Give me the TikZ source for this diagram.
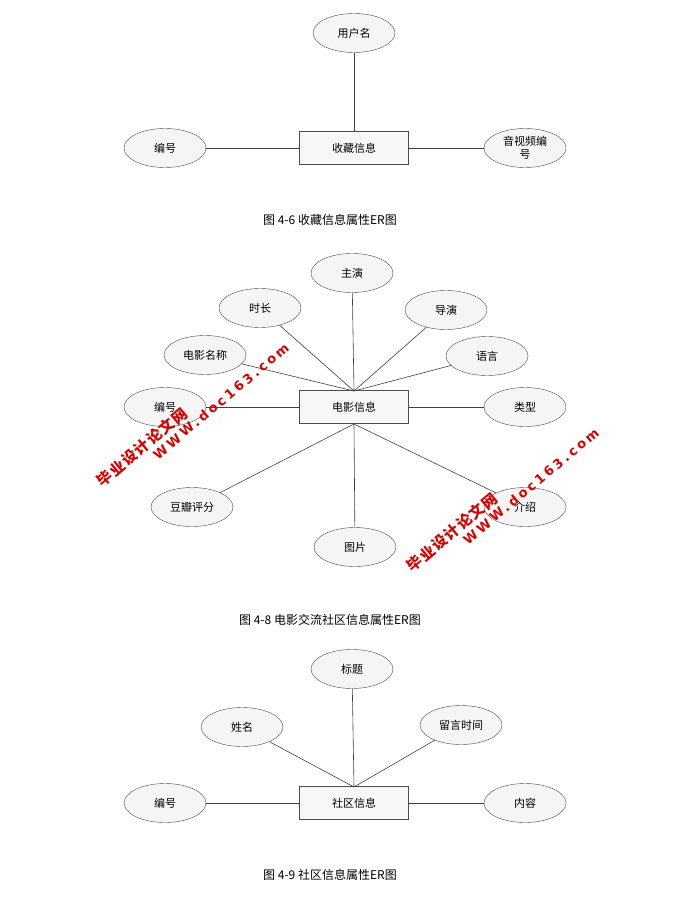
\documentclass[tikz,border=0pt]{standalone}
\usepackage{fontspec}
\newfontfamily\cjk{Noto Sans CJK SC}
\newfontfamily\wmfont[LetterSpace=22]{DejaVu Sans}
\newfontfamily\wmcjk[LetterSpace=8]{Noto Sans CJK SC}
\usetikzlibrary{shapes.geometric}
\begin{document}
\begin{tikzpicture}[x=1pt,y=-1pt,font=\cjk\fontsize{11}{13}\selectfont,
 attr/.style={ellipse,draw=black!70,fill=gray!8,minimum width=82pt,minimum height=39pt,inner sep=0pt,align=center},
 ent/.style={rectangle,draw=black!70,fill=gray!6,minimum width=109pt,minimum height=33pt},
 ln/.style={draw=black!75,line width=0.6pt},
 captxt/.style={font=\cjk\fontsize{12}{14}\selectfont},
 wm/.style={text=red!85!black,font=\wmfont\bfseries\fontsize{13}{16}\selectfont,rotate=40},
 wmc/.style={text=red!85!black,font=\wmcjk\bfseries\fontsize{15}{18}\selectfont,rotate=40}]
\useasboundingbox (0,0) rectangle (695,917);
% diagram 1
\node[ent] (s1) at (354,148) {收藏信息};
\node[attr] (a1) at (354,33) {用户名};
\node[attr] (a2) at (165,148) {编号};
\node[attr] (a3) at (525,148) {音视频编\\号};
\draw[ln] (a1)--(s1.north); \draw[ln] (a2)--(s1); \draw[ln] (s1)--(a3);
\node[captxt] (c1) at (330,220) {图 4-6 收藏信息属性ER图};
% diagram 2
\node[ent] (m) at (354,407) {电影信息};
\coordinate (mt) at (354,391);
\coordinate (mb) at (354,424);
\node[attr] (b1) at (352,273) {主演};
\node[attr] (b2) at (260,308) {时长};
\node[attr] (b3) at (446,310) {导演};
\node[attr] (b4) at (205,355) {电影名称};
\node[attr] (b5) at (487,356) {语言};
\node[attr] (b6) at (165,407) {编号};
\node[attr] (b7) at (525,407) {类型};
\node[attr] (b8) at (192,507) {豆瓣评分};
\node[attr] (b9) at (355,547) {图片};
\node[attr] (b10) at (525,507) {介绍};
\foreach \n in {b1,b2,b3,b4,b5} \draw[ln] (\n)--(mt);
\draw[ln] (b6)--(m); \draw[ln] (m)--(b7);
\foreach \n in {b8,b9,b10} \draw[ln] (\n)--(mb);
\node[captxt] (c2) at (330,620) {图 4-8 电影交流社区信息属性ER图};
\node[wm] (w1) at (221,401) {WWW.doc163.com};
\node[wmc] (w1b) at (142,447) {毕业设计论文网};
\node[wm] (w2) at (531,486) {WWW.doc163.com};
\node[wmc] (w2b) at (452,532) {毕业设计论文网};
% diagram 3
\node[ent] (q) at (354,803) {社区信息};
\coordinate (qt) at (354,787);
\node[attr] (d1) at (352,669) {标题};
\node[attr] (d2) at (242,727) {姓名};
\node[attr] (d3) at (461,725) {留言时间};
\node[attr] (d4) at (165,803) {编号};
\node[attr] (d5) at (525,803) {内容};
\foreach \n in {d1,d2,d3} \draw[ln] (\n)--(qt);
\draw[ln] (d4)--(q); \draw[ln] (q)--(d5);
\node[captxt] (c3) at (330,875) {图 4-9 社区信息属性ER图};
\end{tikzpicture}
\end{document}
